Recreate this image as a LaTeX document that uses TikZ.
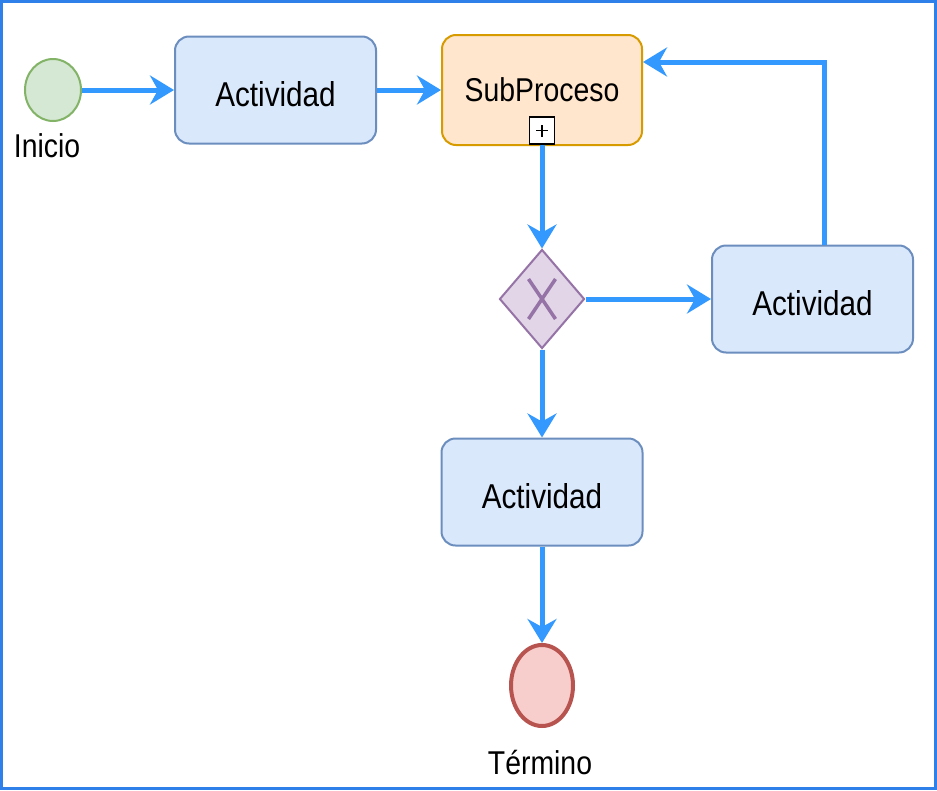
\documentclass[tikz,border=0pt]{standalone}
\usepackage{fontspec}
\setmainfont[FakeStretch=0.86]{Liberation Sans}
\usetikzlibrary{shapes.geometric,arrows.meta}
\definecolor{actfill}{HTML}{DAE8FC}
\definecolor{actline}{HTML}{6C8EBF}
\definecolor{subfill}{HTML}{FFE6CC}
\definecolor{subline}{HTML}{D79B00}
\definecolor{gwfill}{HTML}{E1D5E7}
\definecolor{gwline}{HTML}{9673A6}
\definecolor{stfill}{HTML}{D5E8D4}
\definecolor{stline}{HTML}{82B366}
\definecolor{endfill}{HTML}{F8CECC}
\definecolor{endline}{HTML}{B85450}
\definecolor{flowcol}{HTML}{3399FF}
\definecolor{bordercol}{HTML}{2F80E8}
\tikzset{
  actbox/.style={draw=actline, fill=actfill, line width=2pt, rounded corners=14pt,
    minimum width=201pt, minimum height=107pt, inner sep=0pt,
    text height=33pt, text depth=0pt,
    font=\fontsize{34.5}{40}\selectfont},
  subbox/.style={draw=subline, fill=subfill, line width=2pt, rounded corners=14pt,
    minimum width=200pt, minimum height=110pt, inner sep=0pt,
    font=\fontsize{33}{40}\selectfont},
  lbl/.style={inner sep=0pt, font=\fontsize{33}{40}\selectfont},
  flow/.style={draw=flowcol, line width=5pt,
    -{Stealth[length=24pt, width=29pt, inset=8pt]}},
}
\begin{document}
\begin{tikzpicture}[x=1pt,y=-1pt]
\useasboundingbox (0,0) rectangle (937,790);
\fill[white] (0,0) rectangle (937,790);
\draw[bordercol, line width=3pt] (1.5,1.5) rectangle (935.5,788.5);

% nodes
\node[ellipse, draw=stline, fill=stfill, line width=2pt, minimum width=56pt, minimum height=62pt, inner sep=0pt] (start) at (53,90) {};
\node[lbl] (startlbl) at (47,146) {Inicio};
\node[actbox] (act1) at (275.5,90) {Actividad};
\node[subbox] (sub) at (542,90) {SubProceso};
\node[draw=black, fill=white, line width=1.5pt, minimum width=25pt, minimum height=27pt, inner sep=0pt] (plus) at (542,130.5) {};
\draw[black, line width=1.5pt] ([xshift=-6pt]plus.center) -- ([xshift=6pt]plus.center)
  ([yshift=-6pt]plus.center) -- ([yshift=6pt]plus.center);
\node[diamond, draw=gwline, fill=gwfill, line width=2pt, minimum width=85pt, minimum height=99pt, inner sep=0pt] (gw) at (542,299) {};
\draw[gwline, line width=3.5pt] (528.5,279) -- (555.5,319) (555.5,279) -- (528.5,319);
\node[actbox] (actR) at (812.5,299) {Actividad};
\node[actbox] (actB) at (542,492) {Actividad};
\node[ellipse, draw=endline, fill=endfill, line width=4pt, minimum width=62pt, minimum height=81pt, inner sep=0pt] (end) at (542,685.5) {};
\node[lbl] (endlbl) at (540,763) {Término};

% flows
\draw[flow] (start.east) -- (act1.west);
\draw[flow] (act1.east) -- (sub.west);
\draw[flow] (plus.south) -- (gw.north);
\draw[flow] (gw.east) -- (actR.west);
\draw[flow] ([xshift=11.5pt]actR.north) |- ([yshift=28pt]sub.east);
\draw[flow] (gw.south) -- (actB.north);
\draw[flow] (actB.south) -- (end.north);
\end{tikzpicture}
\end{document}
